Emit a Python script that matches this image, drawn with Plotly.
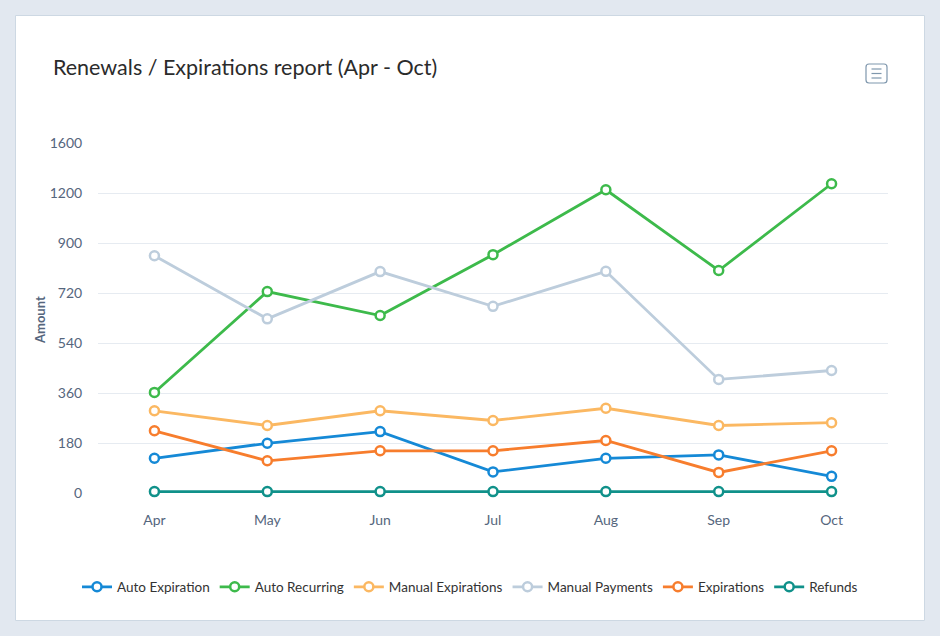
import numpy as np
import plotly.graph_objects as go

months = ["Apr", "May", "Jun", "Jul", "Aug", "Sep", "Oct"]
tick_values = [0, 180, 360, 540, 720, 900, 1200, 1600]
tick_labels = ["0", "180", "360", "540", "720", "900", "1200", "1600"]

auto_expiration = [125, 179, 221, 76, 125, 137, 60]
auto_recurring = [362, 725, 639, 858, 1226, 801, 1274]
manual_expirations = [296, 243, 296, 261, 305, 243, 253]
manual_payments = [854, 627, 797, 672, 798, 409, 441]
expirations = [224, 116, 152, 152, 189, 74, 152]
refunds = [5, 5, 5, 5, 5, 5, 5]

series = [
    ("Auto Expiration", auto_expiration, "#1589d6"),
    ("Auto Recurring", auto_recurring, "#3dba4b"),
    ("Manual Expirations", manual_expirations, "#fbb862"),
    ("Manual Payments", manual_payments, "#bdcddc"),
    ("Expirations", expirations, "#f77d2d"),
    ("Refunds", refunds, "#10918a"),
]

tick_pos = list(range(len(tick_values)))


def scale(vals):
    return list(np.interp(vals, tick_values, tick_pos))


fig = go.Figure()
for name, vals, color in series:
    fig.add_trace(go.Scatter(
        x=months, y=scale(vals), customdata=vals, name=name,
        mode="lines+markers", cliponaxis=False,
        line=dict(color=color, width=2.8),
        marker=dict(symbol="circle", size=9, color="white",
                    line=dict(color=color, width=2.5)),
        hovertemplate="%{x}: %{customdata}<extra>" + name + "</extra>",
    ))

# plot area in pixels
L, R, T, B = 98, 888, 143, 493
W, H = 940, 636


def px(x):
    return (x - L) / (R - L)


def py(y):
    return (B - y) / (B - T)


shapes = [
    dict(type="rect", xref="paper", yref="paper", layer="below",
         x0=px(15.5), x1=px(924.5), y0=py(620.5), y1=py(15.5),
         fillcolor="white", line=dict(color="#cdd8e3", width=1)),
    dict(type="path", xref="paper", yref="paper",
         path=(f"M {px(869)},{py(64)} L {px(884)},{py(64)} Q {px(887)},{py(64)} {px(887)},{py(67)} "
               f"L {px(887)},{py(80)} Q {px(887)},{py(83)} {px(884)},{py(83)} L {px(869)},{py(83)} "
               f"Q {px(866)},{py(83)} {px(866)},{py(80)} L {px(866)},{py(67)} Q {px(866)},{py(64)} {px(869)},{py(64)} Z"),
         line=dict(color="#7f97ad", width=1.2), fillcolor="white"),
]
for yy in (69, 73.5, 78):
    shapes.append(dict(type="line", xref="paper", yref="paper",
                       x0=px(871.5), x1=px(881.5), y0=py(yy), y1=py(yy),
                       line=dict(color="#7f97ad", width=1.2)))

fig.update_layout(
    width=W, height=H,
    margin=dict(l=L, r=W - R, t=T, b=H - B, pad=0, autoexpand=False),
    paper_bgcolor="#e2e8f0",
    plot_bgcolor="rgba(0,0,0,0)",
    font=dict(family="Lato, Open Sans, sans-serif", color="#55667d"),
    title=dict(text="Renewals / Expirations report (Apr - Oct)",
               x=53 / W, xanchor="left", xref="container",
               y=1 - 67 / H, yanchor="middle", yref="container",
               font=dict(size=21.5, color="#2b2b2b", family="Lato, Open Sans, sans-serif")),
    shapes=shapes,
    annotations=[dict(text="<b>Amount</b>", x=px(40), y=py(320), xref="paper", yref="paper",
                      showarrow=False, textangle=-90, xanchor="center", yanchor="middle",
                      font=dict(size=13, color="#55667d"))],
    showlegend=True,
    legend=dict(orientation="h", xref="paper", yref="paper",
                x=px(470), xanchor="center", y=py(587), yanchor="middle",
                font=dict(size=13.5, color="#333333"), bgcolor="rgba(0,0,0,0)",
                itemwidth=30, traceorder="normal"),
    xaxis=dict(range=[-0.5, 6.5], showgrid=False, zeroline=False, showline=False,
               ticks="outside", ticklen=14, tickcolor="rgba(0,0,0,0)",
               tickfont=dict(size=14, color="#55667d")),
    yaxis=dict(range=[0, 7], tickvals=tick_pos, ticktext=tick_labels,
               showgrid=True, gridcolor="#e6ebf1", gridwidth=1, zeroline=False,
               showline=False, ticks="outside", ticklen=12, tickcolor="rgba(0,0,0,0)",
               tickfont=dict(size=14, color="#55667d")),
    hovermode="closest",
)

fig.write_html("out.html", config={"displayModeBar": False},
               post_script="document.body.style.margin='0';document.body.style.overflow='hidden';")
